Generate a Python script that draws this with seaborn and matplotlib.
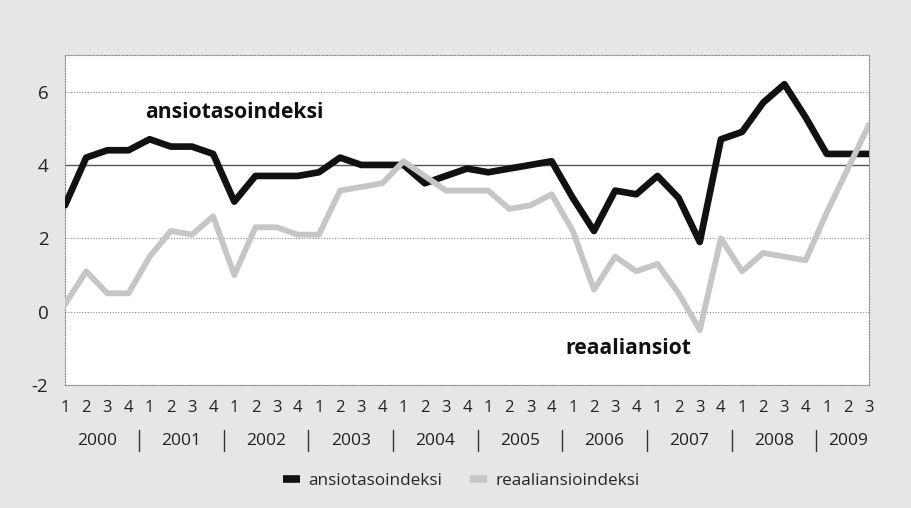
import numpy as np
import pandas as pd
import seaborn as sns
from matplotlib import pyplot as plt
import matplotlib.transforms as mtransforms

years = [str(y) for y in range(2000, 2010)]
quarters = [q for y in years for q in ["1", "2", "3", "4"]][:39]

ansiotaso = [2.9, 4.2, 4.4, 4.4, 4.7, 4.5, 4.5, 4.3,
             3.0, 3.7, 3.7, 3.7, 3.8, 4.2, 4.0, 4.0,
             4.0, 3.5, 3.7, 3.9, 3.8, 3.9, 4.0, 4.1,
             3.1, 2.2, 3.3, 3.2, 3.7, 3.1, 1.9, 4.7,
             4.9, 5.7, 6.2, 5.3, 4.3, 4.3, 4.3]
reaali = [0.2, 1.1, 0.5, 0.5, 1.5, 2.2, 2.1, 2.6,
          1.0, 2.3, 2.3, 2.1, 2.1, 3.3, 3.4, 3.5,
          4.1, 3.7, 3.3, 3.3, 3.3, 2.8, 2.9, 3.2,
          2.2, 0.6, 1.5, 1.1, 1.3, 0.5, -0.5, 2.0,
          1.1, 1.6, 1.5, 1.4, 2.7, 3.9, 5.1]

series_names = ["ansiotasoindeksi", "reaaliansioindeksi"]
colors = {"ansiotasoindeksi": "#111111", "reaaliansioindeksi": "#c6c6c6"}

df = pd.DataFrame({"t": np.arange(len(ansiotaso)), "ansiotasoindeksi": ansiotaso,
                   "reaaliansioindeksi": reaali})
df = df.melt(id_vars="t", var_name="sarja", value_name="arvo")

sns.set_style("white")
plt.rcParams['font.family'] = ['Open Sans', 'DejaVu Sans']

fig = plt.figure(figsize=(9.12, 5.08), dpi=100, facecolor="#e6e6e6")
ax = fig.add_axes([0.0713, 0.242, 0.8816, 0.650])
ax.set_facecolor("white")

# grid first so lines sit on top
for yv in [6, 2, 0]:
    ax.axhline(yv, color="#8a8a8a", lw=0.8, ls=(0, (1, 1.5)), zorder=1)
ax.axhline(4, color="#555555", lw=1.0, zorder=1)

sns.lineplot(data=df, x="t", y="arvo", hue="sarja", hue_order=series_names,
             size="sarja", sizes={"ansiotasoindeksi": 4.8, "reaaliansioindeksi": 4.2},
             palette=colors, ax=ax, legend=False, zorder=3)

ax.set_xlim(0, len(ansiotaso) - 1)
ax.set_ylim(-2, 7)
ax.set_yticks([-2, 0, 2, 4, 6])
ax.set_yticklabels(["-2", "0", "2", "4", "6"], fontsize=13.5, color="#222222")
ax.set_xticks(np.arange(len(quarters)))
ax.set_xticklabels(quarters, fontsize=12, color="#222222")
ax.tick_params(axis="both", length=0)
ax.tick_params(axis="y", pad=12)
ax.tick_params(axis="x", pad=11)
ax.set_xlabel("")
ax.set_ylabel("")
for s in ax.spines.values():
    s.set_color("#8a8a8a")
    s.set_linewidth(0.8)
    s.set_linestyle((0, (1, 1.5)))

# year labels and separators under the quarter numbers
trans = mtransforms.blended_transform_factory(ax.transData, ax.transAxes)
for i, yr in enumerate(years):
    first = i * 4
    last = min(first + 3, len(quarters) - 1)
    ax.text((first + last) / 2, -0.168, yr, transform=trans, ha="center", va="center",
            fontsize=12.5, color="#222222")
    if i > 0:
        ax.plot([first - 0.5, first - 0.5], [-0.136, -0.199], transform=trans,
                color="#333333", lw=1.0, clip_on=False)

ax.text(3.79, 5.44, "ansiotasoindeksi", fontsize=15.2, fontweight="bold",
        color="#111111", va="center")
ax.text(23.66, -0.99, "reaaliansiot", fontsize=15.2, fontweight="bold",
        color="#111111", va="center")

handles = [plt.Line2D([], [], color=colors[n], lw=5.5, solid_capstyle="butt")
           for n in series_names]
fig.legend(handles, series_names, loc="center", bbox_to_anchor=(0.506, 0.053), ncol=2,
           frameon=False, fontsize=12.3, handlelength=1.0, handletextpad=0.5,
           columnspacing=1.6)

plt.savefig("out.png", dpi=100, facecolor=fig.get_facecolor())
